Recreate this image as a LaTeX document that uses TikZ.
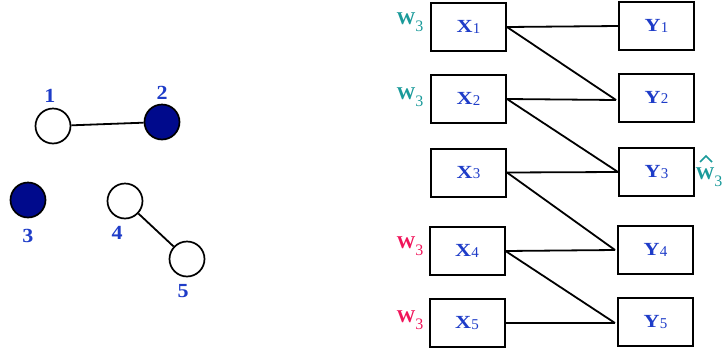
\documentclass[tikz,border=0pt]{standalone}
\usepackage{fontspec}
\usepackage{graphicx}
\setmainfont{Liberation Serif}
\definecolor{lblue}{RGB}{30,60,200}
\definecolor{navy}{RGB}{0,10,140}
\definecolor{wteal}{RGB}{26,154,154}
\definecolor{wred}{RGB}{240,20,90}
\tikzset{
  vtx/.style={circle,draw=black,line width=1.7pt,minimum size=35pt,inner sep=0pt},
  filled/.style={vtx,fill=navy},
  open/.style={vtx,fill=white},
  num/.style={text=lblue,font=\fontsize{20}{20}\selectfont\bfseries,inner sep=0pt},
  bx/.style={draw=black,line width=2pt,minimum width=75pt,minimum height=48pt,inner sep=0pt,text=lblue,font=\fontsize{18.5}{18.5}\selectfont},
  wl/.style={font=\fontsize{18}{18}\selectfont,inner sep=0pt},
  edge/.style={line width=1.8pt}
}
\newcommand{\xl}[2]{\raisebox{-2pt}{\scalebox{1.2}[1]{\textbf{#1}}{\fontsize{15}{15}\selectfont\raisebox{-0.7pt}{#2}}}}
\newcommand{\wlab}{\scalebox{1.05}[1]{\textbf{W}}{\fontsize{16}{16}\selectfont\raisebox{-7pt}{3}}}
\newcommand{\nl}[1]{\scalebox{1.1}[1]{#1}}
\begin{document}
\begin{tikzpicture}[x=1pt,y=-1pt]
\useasboundingbox (0,0) rectangle (724,354);
% left graph
\node[open] (n1) at (53,126) {};
\node[filled] (n2) at (162,122) {};
\node[filled] (n3) at (28,200) {};
\node[open] (n4) at (125,201) {};
\node[open] (n5) at (187,259) {};
\node[num] (l1) at (50,96) {\nl{1}};
\node[num] (l2) at (162,93) {\nl{2}};
\node[num] (l3) at (28,236) {\nl{3}};
\node[num] (l4) at (117,233) {\nl{4}};
\node[num] (l5) at (183,291) {\nl{5}};
\draw[edge] (n1) -- (n2);
\draw[edge] (n4) -- (n5);
% bipartite
\node[bx] (x1) at (468.5,27) {\xl{X}{1}};
\node[bx] (x2) at (468.5,99) {\xl{X}{2}};
\node[bx] (x3) at (468.5,172.5) {\xl{X}{3}};
\node[bx] (x4) at (467,251) {\xl{X}{4}};
\node[bx] (x5) at (467,323) {\xl{X}{5}};
\node[bx] (y1) at (656.5,26) {\xl{Y}{1}};
\node[bx] (y2) at (656.5,97.5) {\xl{Y}{2}};
\node[bx] (y3) at (656.5,172) {\xl{Y}{3}};
\node[bx] (y4) at (655.5,250) {\xl{Y}{4}};
\node[bx] (y5) at (655.5,322) {\xl{Y}{5}};
\coordinate (c2) at (616,100);
\coordinate (c4) at (615,250);
\coordinate (c5) at (615,323);
\draw[edge] (x1.east) -- (y1.west);
\draw[edge] (x1.east) -- (c2);
\draw[edge] (x2.east) -- (c2);
\draw[edge] (x2.east) -- (y3.west);
\draw[edge] (x3.east) -- (y3.west);
\draw[edge] (x3.east) -- (c4);
\draw[edge] (x4.east) -- (c4);
\draw[edge] (x4.east) -- (c5);
\draw[edge] (x5.east) -- (c5);
% weight labels
\node[wl,text=wteal] (w1) at (410,22) {\wlab};
\node[wl,text=wteal] (w2) at (410,97) {\wlab};
\node[wl,text=wred] (w4) at (410,246) {\wlab};
\node[wl,text=wred] (w5) at (410,320) {\wlab};
\node[wl,text=wteal] (w3) at (709,177) {\wlab};
\draw[wteal,line width=1.7pt] (700,162) -- (706,156) -- (712,162);
\end{tikzpicture}
\end{document}
